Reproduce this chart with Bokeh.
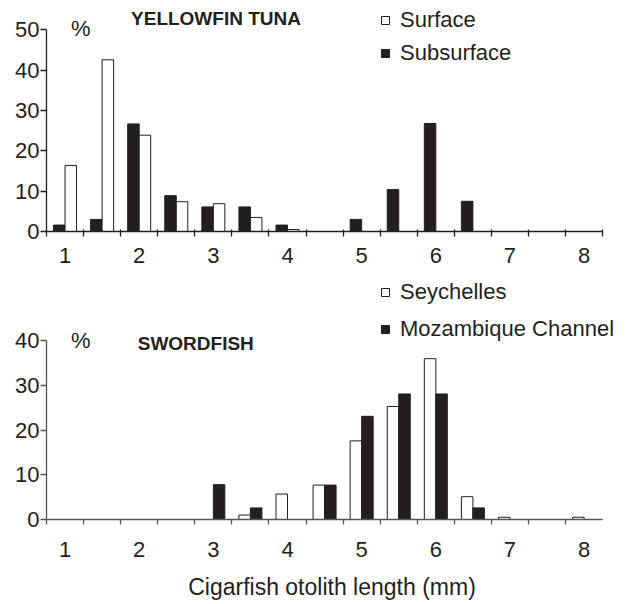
from bokeh.plotting import figure
from bokeh.models import ColumnDataSource, FixedTicker, Label, Legend, LegendItem
from bokeh.layouts import column
from bokeh.transform import dodge
from bokeh.embed import file_html
from bokeh.resources import INLINE

# ---- data ----
bins = [1.0, 1.5, 2.0, 2.5, 3.0, 3.5, 4.0, 4.5, 5.0, 5.5, 6.0, 6.5, 7.0, 7.5, 8.0]
x_tick_labels = [1, 2, 3, 4, 5, 6, 7, 8]
bin_edges = [0.75, 1.25, 1.75, 2.25, 2.75, 3.25, 3.75, 4.25, 4.75, 5.25, 5.75, 6.25, 6.75, 7.25, 7.75, 8.25]

# Yellowfin tuna (%)
surface = [16.4, 42.6, 23.9, 7.4, 6.9, 3.5, 0.5, 0, 0, 0, 0, 0, 0, 0, 0]
subsurface = [1.6, 3.0, 26.7, 8.9, 6.1, 6.1, 1.6, 0, 3.0, 10.4, 26.8, 7.5, 0, 0, 0]

# Swordfish (%)
seychelles = [0, 0, 0, 0, 0, 1.0, 5.7, 7.7, 17.6, 25.3, 36.0, 5.1, 0.5, 0, 0.5]
mozambique = [0, 0, 0, 0, 7.8, 2.6, 0, 7.7, 23.1, 28.1, 28.1, 2.6, 0, 0, 0]

top_y_ticks = [0, 10, 20, 30, 40, 50]
bottom_y_ticks = [0, 10, 20, 30, 40]

FONT = "Liberation Sans"
INK = "#231f20"
BAR_W = 0.155
X_END = 8.45   # frame extends a little past the axis so the legend is not clipped


def base_fig(height, y_end, border_bottom, axis_color, edge_ticks, y_ticks,
             label_standoff, tick_in):
    p = figure(width=630, height=height, x_range=(0.75, X_END), y_range=(0, y_end),
               output_backend="svg", toolbar_location=None,
               min_border_left=46, min_border_right=13,
               min_border_top=0, min_border_bottom=border_bottom)
    p.outline_line_color = None
    p.grid.visible = False

    ya = p.yaxis[0]
    ya.ticker = FixedTicker(ticks=y_ticks, minor_ticks=[])
    ya.bounds = (0, max(y_ticks))
    ya.major_tick_out = 6
    ya.major_tick_in = 0
    ya.minor_tick_out = 0
    ya.minor_tick_in = 0
    ya.major_label_standoff = 1
    ya.major_label_text_font = FONT
    ya.major_label_text_font_size = "22px"
    ya.major_label_text_color = INK
    ya.axis_line_color = axis_color
    ya.axis_line_width = 1.3
    ya.major_tick_line_color = axis_color
    ya.major_tick_line_width = 1.3

    xa = p.xaxis[0]
    xa.ticker = FixedTicker(ticks=x_tick_labels, minor_ticks=edge_ticks)
    xa.bounds = (0.75, 8.25)
    xa.major_tick_out = 0
    xa.major_tick_in = 0
    xa.minor_tick_out = 5
    xa.minor_tick_in = tick_in
    xa.major_label_standoff = label_standoff
    xa.major_label_text_font = FONT
    xa.major_label_text_font_size = "22px"
    xa.major_label_text_color = INK
    xa.axis_line_color = axis_color
    xa.axis_line_width = 1.3
    xa.minor_tick_line_color = axis_color
    xa.minor_tick_line_width = 1.3
    return p


def add_legend(p, items, loc, spacing):
    leg = Legend(items=items, location=loc, orientation="vertical",
                 glyph_width=10, glyph_height=10, label_height=26,
                 label_standoff=10, spacing=spacing, padding=0, margin=0,
                 border_line_alpha=0, background_fill_alpha=0,
                 label_text_font=FONT, label_text_font_size="22px",
                 label_text_color=INK)
    p.add_layout(leg)


# ---------------- Top: yellowfin tuna ----------------
top_src = ColumnDataSource(dict(bins=bins, surface=surface, subsurface=subsurface))
p1 = base_fig(266, 57.32, 35, INK, bin_edges, top_y_ticks, 11, 2)
r_sub = p1.vbar(x=dodge("bins", -BAR_W / 2, range=p1.x_range), top="subsurface",
                width=BAR_W, source=top_src, fill_color=INK, line_color=INK, line_width=1)
r_surf = p1.vbar(x=dodge("bins", BAR_W / 2, range=p1.x_range), top="surface",
                 width=BAR_W, source=top_src, fill_color="white", line_color=INK, line_width=1)
p1.add_layout(Label(x=1.08, y=50.3, text="%", text_font=FONT, text_font_size="22px",
                    text_color=INK, text_baseline="middle"))
p1.add_layout(Label(x=1.89, y=52.8, text="YELLOWFIN TUNA", text_font=FONT,
                    text_font_size="19px", text_font_style="bold", text_color=INK,
                    text_baseline="middle"))
add_legend(p1, [LegendItem(label="Surface", renderers=[r_surf]),
                LegendItem(label="Subsurface", renderers=[r_sub])], (334, 165), 7)

# ---------------- Bottom: swordfish ----------------
bot_src = ColumnDataSource(dict(bins=bins, seychelles=seychelles, mozambique=mozambique))
p2 = base_fig(337, 56.63, 84, "#555555", bin_edges[:-1], bottom_y_ticks, 17, 0)
r_sey = p2.vbar(x=dodge("bins", -BAR_W / 2, range=p2.x_range), top="seychelles",
                width=BAR_W, source=bot_src, fill_color="white", line_color=INK, line_width=1)
r_moz = p2.vbar(x=dodge("bins", BAR_W / 2, range=p2.x_range), top="mozambique",
                width=BAR_W, source=bot_src, fill_color=INK, line_color=INK, line_width=1)
p2.xaxis.axis_label = "Cigarfish otolith length (mm)"
p2.xaxis.axis_label_text_font = FONT
p2.xaxis.axis_label_text_font_size = "23px"
p2.xaxis.axis_label_text_font_style = "normal"
p2.xaxis.axis_label_text_color = INK
p2.xaxis.axis_label_standoff = 14
p2.add_layout(Label(x=1.08, y=40.0, text="%", text_font=FONT, text_font_size="22px",
                    text_color=INK, text_baseline="middle"))
p2.add_layout(Label(x=1.98, y=39.4, text="SWORDFISH", text_font=FONT,
                    text_font_size="19px", text_font_style="bold", text_color=INK,
                    text_baseline="middle"))
add_legend(p2, [LegendItem(label="Seychelles", renderers=[r_sey]),
                LegendItem(label="Mozambique Channel", renderers=[r_moz])], (334, 177), 11)

layout = column(p1, p2, spacing=0)
open("out.html", "w").write(file_html(layout, INLINE))
